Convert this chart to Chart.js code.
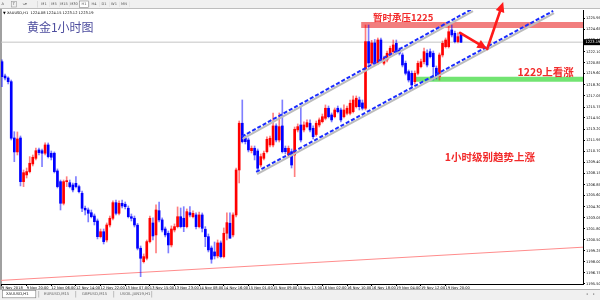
<!DOCTYPE html>
<html><head><meta charset="utf-8">
<script src="https://cdn.jsdelivr.net/npm/chart.js@4.4.1/dist/chart.umd.min.js"></script>
<style>
html,body{margin:0;padding:0;width:600px;height:300px;overflow:hidden;background:#fff;}
canvas{position:absolute;left:0;top:0;}
</style></head>
<body>
<canvas id="c" width="600" height="300"></canvas>
<script>
// ---- data ----
const xTickLabels = ["9 Nov 2018","9 Nov 20:00","12 Nov 06:00","12 Nov 14:00","12 Nov 22:00","13 Nov 07:00","13 Nov 15:00","13 Nov 23:00","14 Nov 08:00","14 Nov 16:00","15 Nov 01:00","15 Nov 09:00","15 Nov 17:00","16 Nov 02:00","16 Nov 10:00","16 Nov 18:00","19 Nov 04:00","19 Nov 12:00","19 Nov 20:00"];
const yTickValues = [1195.50,1196.75,1198.00,1199.25,1200.50,1201.80,1203.05,1204.30,1205.60,1206.85,1208.15,1209.40,1210.70,1211.95,1213.20,1214.50,1215.75,1217.05,1218.30,1219.60,1220.85,1222.10,1223.40,1224.65,1225.95];

const opens = [1220.95,1219.31,1219.08,1218.66,1212.20,1210.60,1212.20,1207.19,1207.96,1208.34,
1209.22,1209.87,1210.83,1210.74,1210.45,1211.40,1210.45,1210.45,1208.42,1207.19,
1204.71,1207.19,1207.07,1206.81,1207.00,1206.62,1205.86,1204.14,1203.94,1203.63,
1203.25,1202.68,1200.88,1201.45,1200.50,1202.22,1202.99,1204.78,1203.56,1204.71,
1204.60,1204.14,1203.17,1202.99,1202.20,1199.55,1198.01,1198.40,1200.31,1202.45,
1201.08,1203.86,1202.80,1201.76,1201.27,1199.93,1201.65,1202.03,1203.17,1202.99,
1202.03,1203.63,1203.17,1203.37,1202.03,1203.37,1201.73,1200.88,1199.58,1199.13,
1198.67,1200.16,1198.59,1201.27,1202.42,1201.08,1203.37,1208.53,1213.89,1212.20,
1211.97,1210.74,1211.02,1210.71,1209.10,1209.87,1210.63,1211.40,1211.40,1213.58,
1211.97,1213.58,1211.02,1210.25,1210.63,1210.25,1213.12,1213.69,1213.12,1213.50,
1213.89,1213.31,1212.60,1213.69,1214.07,1214.46,1215.61,1214.84,1214.64,1215.61,
1215.41,1214.64,1215.03,1215.03,1215.22,1215.79,1216.56,1216.22,1215.61,1223.25,
1220.80,1223.10,1220.77,1223.44,1220.77,1221.15,1221.72,1222.10,1223.06,1222.30,
1221.72,1220.77,1219.81,1219.62,1218.66,1219.62,1220.38,1220.95,1221.92,1222.10,
1221.92,1220.20,1219.23,1221.72,1222.67,1222.67,1224.59,1224.21,1223.25,1224.08];
const highs = [1221.15,1219.54,1219.20,1218.85,1212.92,1212.89,1212.43,1208.53,1208.76,1210.06,
1210.25,1211.05,1211.05,1210.94,1211.63,1211.63,1210.71,1210.60,1208.65,1207.38,
1207.38,1207.76,1207.38,1207.04,1207.76,1206.81,1206.12,1204.40,1204.17,1203.94,
1203.48,1202.91,1201.76,1201.76,1202.45,1203.25,1204.98,1205.09,1204.98,1205.09,
1204.86,1204.40,1203.48,1203.25,1202.40,1199.81,1198.90,1200.50,1203.25,1203.03,
1204.52,1204.86,1203.03,1201.99,1201.53,1202.11,1202.34,1204.29,1204.17,1204.32,
1204.06,1204.32,1203.83,1203.60,1203.71,1203.60,1202.03,1201.19,1199.81,1200.27,
1200.50,1200.39,1201.88,1203.60,1203.60,1203.60,1208.76,1214.15,1216.56,1212.55,
1212.20,1211.28,1211.28,1210.94,1210.37,1210.71,1212.32,1212.43,1215.07,1213.81,
1215.07,1216.56,1211.28,1211.28,1210.94,1213.46,1213.81,1215.79,1214.04,1214.27,
1214.27,1213.58,1214.15,1214.50,1214.95,1215.99,1215.87,1215.07,1215.64,1215.87,
1215.64,1215.99,1215.87,1216.56,1217.02,1217.02,1216.90,1216.56,1225.16,1225.16,
1223.40,1223.50,1223.67,1223.67,1221.60,1222.18,1222.75,1223.44,1223.44,1222.52,
1221.95,1221.03,1220.00,1219.89,1219.89,1221.03,1221.26,1222.52,1222.30,1222.41,
1222.18,1220.46,1221.95,1223.33,1223.67,1225.16,1225.16,1224.47,1224.25,1224.15];
const lows = [1218.09,1218.85,1218.40,1211.97,1209.48,1210.25,1206.70,1206.62,1207.61,1208.19,
1208.99,1209.68,1210.25,1208.91,1210.25,1209.91,1209.68,1208.19,1206.47,1203.94,
1204.52,1206.62,1206.47,1206.01,1206.47,1205.89,1203.75,1203.37,1202.57,1203.03,
1202.22,1200.62,1200.73,1200.04,1200.27,1201.99,1202.80,1203.37,1203.37,1204.17,
1204.06,1203.03,1202.68,1201.99,1199.36,1196.29,1197.86,1198.21,1200.16,1200.50,
1199.01,1202.57,1201.42,1200.85,1199.01,1199.70,1201.42,1201.88,1201.88,1201.45,
1201.88,1203.14,1203.03,1201.76,1201.88,1201.42,1199.73,1199.13,1197.83,1198.32,
1198.44,1198.44,1198.44,1200.50,1200.70,1200.85,1203.14,1207.04,1211.63,1211.51,
1210.60,1210.48,1209.68,1208.53,1208.87,1209.68,1210.48,1211.17,1211.17,1211.74,
1211.74,1210.48,1210.37,1210.02,1208.76,1207.76,1212.89,1211.74,1212.89,1213.35,
1212.89,1212.09,1212.40,1213.46,1213.92,1214.27,1214.50,1214.04,1214.50,1215.07,
1214.04,1214.50,1214.84,1214.84,1215.07,1215.64,1215.41,1215.41,1215.41,1220.57,
1220.57,1220.57,1220.60,1220.92,1220.57,1220.92,1221.49,1221.84,1221.84,1221.72,
1220.35,1219.43,1218.62,1217.94,1218.40,1219.43,1220.23,1220.69,1220.35,1221.38,
1218.85,1218.97,1218.85,1221.49,1222.52,1222.52,1223.79,1223.10,1223.10,1223.12];
const closes = [1219.23,1219.08,1218.66,1212.17,1210.60,1212.09,1207.19,1208.22,1208.34,1209.30,
1209.99,1210.74,1210.52,1210.45,1211.40,1210.06,1209.99,1208.34,1206.62,1204.71,
1207.19,1207.25,1206.62,1206.24,1206.62,1206.04,1204.14,1203.94,1203.56,1203.17,
1202.60,1200.88,1201.45,1200.31,1202.22,1202.99,1204.78,1203.56,1204.71,1204.40,
1204.32,1203.17,1202.99,1202.22,1199.55,1198.40,1198.59,1200.31,1202.99,1200.96,
1203.94,1202.80,1201.65,1201.08,1199.93,1201.76,1202.03,1203.17,1202.03,1202.03,
1203.75,1203.37,1203.56,1202.03,1203.37,1201.84,1200.88,1199.36,1198.29,1198.67,
1200.16,1198.59,1201.27,1202.49,1200.70,1203.37,1208.53,1213.89,1211.78,1211.78,
1210.83,1211.02,1210.25,1208.73,1210.06,1210.45,1212.05,1212.17,1213.58,1211.97,
1213.50,1210.63,1210.63,1211.02,1209.10,1213.20,1213.50,1211.97,1213.69,1213.96,
1213.12,1212.35,1213.89,1214.27,1214.64,1215.61,1214.64,1214.27,1215.41,1215.22,
1214.27,1215.41,1215.61,1216.18,1216.56,1216.76,1215.79,1215.61,1223.25,1220.80,
1223.10,1220.77,1223.44,1221.15,1221.34,1221.92,1222.49,1222.87,1222.10,1221.92,
1220.57,1219.62,1218.85,1218.28,1219.62,1220.77,1220.95,1222.10,1220.57,1221.53,
1220.38,1219.23,1221.72,1223.06,1223.44,1224.39,1224.02,1223.25,1223.82,1223.19];

const bidPrice = 1223.19;
const resistanceLevel = 1225.15;   // 暂时承压
const supportLevel = 1218.95;      // 绿线
const resistanceFrom = 116.6, supportFrom = 134.2;
const upperChannel = [{x:77.8,y:1212.35},{x:152.6,y:1227.0}];
const lowerChannel = [{x:82.5,y:1208.30},{x:178.9,y:1226.77}];
const longTrend = [{x:-1,y:1195.85},{x:190,y:1199.70}];
const arrowPath1 = [{x:148.7,y:1224.25},{x:157.5,y:1222.41}];
const arrowPath2 = [{x:157.5,y:1222.41},{x:162.7,y:1227.80}];
const headerText = "\u25BC XAUUSD,H1  1224.08 1224.15 1223.12 1223.19";
const notes = [
  {text:"黄金1小时图", x:8.1, y:1224.88, align:"left", color:"#4d4d9e", font:"12px 'Noto Sans CJK SC'"},
  {text:"暂时承压1225", x:130.2, y:1226.08, align:"center", color:"#f22a2a", font:"bold 9.5px 'Noto Sans CJK SC'"},
  {text:"1229上看涨", x:176.5, y:1219.71, align:"center", color:"#f22a2a", font:"bold 10.5px 'Noto Sans CJK SC'"},
  {text:"1小时级别趋势上涨", x:158.4, y:1209.96, align:"center", color:"#f22a2a", font:"bold 10.5px 'Noto Sans CJK SC'"}
];
const timeframes = ["M1","M5","M15","M30","H1","H4","D1","W1","MN"];
const tabs = ["XAUUSD,H1","EURUSD,M15","GBPUSD,M15","USOIL.JAN19,H1"];

// ---- chart ----
const UP = '#ff0000', DOWN = '#0000ff';
const isUp = i => closes[i] >= opens[i];
const wickData = opens.map((o,i)=>({x:i, y:[lows[i], highs[i]]}));
const bodyData = opens.map((o,i)=>({x:i, y:[o, closes[i]]}));
const lineDs = (pts, color, width, order, dash) => ({type:'line', data:pts, borderColor:color, borderWidth:width,
  pointRadius:0, fill:false, order, borderDash:dash||[], borderCapStyle:'butt', tension:0});
const shadowOf = pts => pts.map(p=>({x:p.x+0.3, y:p.y-0.25}));
const lastX = 190;

const deco = {
  id:'deco',
  beforeDraw(chart){
    const c = chart.ctx;
    c.save();
    c.fillStyle='#fff'; c.fillRect(0,0,600,300);
    // toolbar
    c.fillStyle='#f0f0f0'; c.fillRect(0,0,600,8.5);
    c.fillStyle='#bdbdbd'; c.fillRect(0,8,600,1);
    c.font="3.6px 'DejaVu Sans'"; c.textBaseline='middle'; c.fillStyle='#444';
    c.fillText('A',1.5,4.3);
    c.strokeStyle='#999'; c.lineWidth=0.6; c.strokeRect(11.5,1.5,5,5.5);
    c.fillText('T',12.8,4.3);
    c.fillText('\u2198\u25BE',22,4.3);
    c.fillStyle='#ccc'; c.fillRect(37,1,0.6,6.5);
    timeframes.forEach((t,k)=>{
      const bx = 39.5 + k*10;
      if(t==='H1'){ c.fillStyle='#fff'; c.fillRect(bx,1,9,6.5); c.strokeStyle='#888'; c.strokeRect(bx,1,9,6.5); }
      c.fillStyle='#555'; c.textAlign='center'; c.fillText(t,bx+4.5,4.4);
      c.fillStyle='#ddd'; c.fillRect(bx+9.5,1.5,0.5,5.5);
    });
    c.textAlign='left';
    // left border of the chart window
    c.fillStyle='#a0a0a0'; c.fillRect(0,9,2,280);
    // tab bar
    c.fillStyle='#f0f0f0'; c.fillRect(0,289,600,11);
    c.fillStyle='#a0a0a0'; c.fillRect(0,289,600,0.8);
    const tx=[2,40,78,116];
    tabs.forEach((t,k)=>{
      if(k===0){ c.fillStyle='#fff'; c.fillRect(2,290,34,8); c.strokeStyle='#777'; c.lineWidth=0.6; c.strokeRect(2.3,290.3,33.5,7.5); }
      c.fillStyle = k===0 ? '#222' : '#666';
      c.font="3.8px 'DejaVu Sans'";
      c.fillText(t, tx[k]+4, 294.5);
      c.fillStyle='#999'; c.fillRect(tx[k]+(k===0?36.5:35.5),291,0.6,6.5);
    });
    c.fillStyle='#888'; c.font="3.6px 'DejaVu Sans'";
    c.fillText('\u25C2',586,294.5); c.fillText('\u25B8',593,294.5);
    c.restore();
  },
  afterDraw(chart){
    const c = chart.ctx, xs = chart.scales.x, ys = chart.scales.y;
    const px = v => xs.getPixelForValue(v), py = v => ys.getPixelForValue(v);
    c.save();
    // header
    c.font="3.6px 'DejaVu Sans'"; c.fillStyle='#000'; c.textBaseline='middle'; c.textAlign='left';
    c.fillText(headerText, 3, 13.2);
    // notes
    notes.forEach(n=>{
      c.font=n.font; c.fillStyle=n.color; c.textAlign=n.align; c.textBaseline='middle';
      c.fillText(n.text, px(n.x), py(n.y));
    });
    // arrows
    const arrow = (p0,p1)=>{
      const x0=px(p0.x), y0=py(p0.y), x1=px(p1.x), y1=py(p1.y);
      const a=Math.atan2(y1-y0,x1-x0), L=10, W=4.5;
      const bx=x1-L*Math.cos(a), by=y1-L*Math.sin(a);
      c.strokeStyle='#ff1a1a'; c.lineWidth=2.6; c.lineCap='round';
      c.beginPath(); c.moveTo(x0,y0); c.lineTo(bx,by); c.stroke();
      c.fillStyle='#ff1a1a'; c.beginPath();
      c.moveTo(x1,y1);
      c.lineTo(bx+W*Math.sin(a), by-W*Math.cos(a));
      c.lineTo(bx-W*Math.sin(a), by+W*Math.cos(a));
      c.closePath(); c.fill();
    };
    arrow(arrowPath1[0],arrowPath1[1]);
    arrow(arrowPath2[0],arrowPath2[1]);
    // current price box
    const yb = py(bidPrice);
    c.fillStyle='#000'; c.fillRect(583.5, yb-3, 16.5, 6);
    c.fillStyle='#fff'; c.font="3.6px 'DejaVu Sans'"; c.textAlign='left'; c.textBaseline='middle';
    c.fillText(bidPrice.toFixed(2), 585.5, yb+0.2);
    c.restore();
  }
};

new Chart(document.getElementById('c'), {
  type:'bar',
  data:{ datasets:[
    lineDs([{x:-1,y:bidPrice},{x:lastX,y:bidPrice}], '#c4c4c4', 1, 20),
    lineDs(longTrend, '#ff8c8c', 1, 19),
    lineDs([{x:resistanceFrom,y:resistanceLevel},{x:lastX,y:resistanceLevel}], '#f27e7e', 6, 18),
    lineDs([{x:supportFrom,y:supportLevel},{x:lastX,y:supportLevel}], '#72e472', 5, 18),
    {type:'bar', data:wickData, barThickness:1, grouped:false, order:12,
      backgroundColor: ctx => (ctx.dataIndex===undefined) ? DOWN : (isUp(ctx.dataIndex) ? 'rgba(255,0,0,0.5)' : 'rgba(0,0,255,0.5)')},
    {type:'bar', data:bodyData, barThickness:2, minBarLength:1, grouped:false, order:11,
      backgroundColor: ctx => (ctx.dataIndex===undefined) ? DOWN : (isUp(ctx.dataIndex) ? UP : DOWN)},
    lineDs(shadowOf(upperChannel), '#bcbcbc', 2, 6),
    lineDs(shadowOf(lowerChannel), '#bcbcbc', 2, 6),
    lineDs(upperChannel, '#1a2cff', 2, 5, [4,2]),
    lineDs(lowerChannel, '#1a2cff', 2, 5, [4,2])
  ]},
  options:{
    responsive:false, animation:false, events:[],
    layout:{padding:{left:1, top:10, right:0, bottom:10}},
    plugins:{legend:{display:false}, tooltip:{enabled:false}},
    scales:{
      x:{ type:'linear', min:-0.32, max:188.6, offset:false,
        grid:{display:true, drawOnChartArea:false, drawTicks:true, tickLength:2, color:'#000', offset:false},
        border:{display:true, color:'#000', width:1},
        afterBuildTicks: s => { s.ticks = xTickLabels.map((_,k)=>({value:k*8})); },
        afterFit: s => { s.height = 6; },
        ticks:{ autoSkip:false, maxRotation:0, minRotation:0, align:'start', padding:0, color:'#000',
          font:{family:'DejaVu Sans', size:3.6},
          callback: v => { const k=Math.round(v/8); return xTickLabels[k] || ''; } }
      },
      y:{ type:'linear', position:'right', min:1195.45, max:1226.88, beginAtZero:false,
        grid:{display:true, drawOnChartArea:false, drawTicks:true, tickLength:2, color:'#000'},
        border:{display:true, color:'#000', width:1},
        afterBuildTicks: s => { s.ticks = yTickValues.map(v=>({value:v})); },
        afterFit: s => { s.width = 17; },
        ticks:{ padding:1, color:'#000', font:{family:'DejaVu Sans', size:3.6},
          callback: v => Number(v).toFixed(2) }
      }
    }
  },
  plugins:[deco]
});
</script>
</body></html>
